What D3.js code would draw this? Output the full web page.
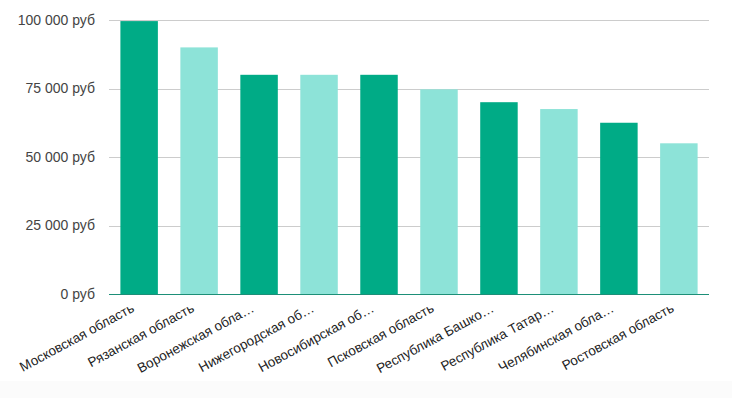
<!DOCTYPE html>
<html>
<head>
<meta charset="utf-8">
<script src="https://cdn.jsdelivr.net/npm/d3@7"></script>
<style>
  html, body { margin: 0; padding: 0; background: #ffffff; }
  svg { display: block; font-family: "Liberation Sans", Arial, sans-serif; }
</style>
</head>
<body>
<script>
const regions = [
  "Московская область",
  "Рязанская область",
  "Воронежская обла…",
  "Нижегородская об…",
  "Новосибирская об…",
  "Псковская область",
  "Республика Башко…",
  "Республика Татар…",
  "Челябинская обла…",
  "Ростовская область"
];
const salaries = [99600, 90000, 80000, 80000, 80000, 74700, 70000, 67500, 62500, 55000];
const yTicks = [0, 25000, 50000, 75000, 100000];
const barColors = ["#00ab86", "#8de3d8"];

const width = 732, height = 398;
const margin = { top: 20, right: 23, bottom: 104, left: 109 };

const svg = d3.select("body").append("svg")
  .attr("width", width)
  .attr("height", height);

// faint strip along the bottom edge
svg.append("rect")
  .attr("x", 0)
  .attr("y", 381)
  .attr("width", width)
  .attr("height", height - 381)
  .attr("fill", "#fbfbfb");

const x = d3.scaleBand()
  .domain(regions)
  .range([margin.left, width - margin.right])
  .paddingInner(0.375)
  .paddingOuter(0.19);

const y = d3.scaleLinear()
  .domain([0, 100000])
  .range([height - margin.bottom, margin.top]);

const fmt = v => d3.format(",")(v).replace(/,/g, " ") + " руб";

// grid
svg.append("g")
  .selectAll("line")
  .data(yTicks.filter(d => d > 0))
  .join("line")
  .attr("x1", margin.left)
  .attr("x2", width - margin.right)
  .attr("y1", d => Math.round(y(d)) + 0.5)
  .attr("y2", d => Math.round(y(d)) + 0.5)
  .attr("stroke", "#cccccc")
  .attr("stroke-width", 1);

// y labels
const yAxis = svg.append("g")
  .attr("transform", `translate(${margin.left - 14},0)`)
  .call(d3.axisLeft(y).tickValues(yTicks).tickSize(0).tickPadding(0).tickFormat(fmt));
yAxis.select(".domain").remove();
yAxis.selectAll("text")
  .attr("fill", "#444444")
  .style("font-size", "14px")
  .style("font-family", "\"Liberation Sans\", Arial, sans-serif");

// bars
svg.append("g")
  .selectAll("rect")
  .data(salaries)
  .join("rect")
  .attr("x", (d, i) => x(regions[i]))
  .attr("y", d => y(d))
  .attr("width", x.bandwidth())
  .attr("height", d => y(0) - y(d))
  .attr("fill", (d, i) => barColors[i % 2]);

// baseline
svg.append("line")
  .attr("x1", margin.left)
  .attr("x2", width - margin.right)
  .attr("y1", y(0) + 0.5)
  .attr("y2", y(0) + 0.5)
  .attr("stroke", "#1d8f78")
  .attr("stroke-width", 1);

// x labels
const xAxis = svg.append("g")
  .attr("transform", `translate(0,${y(0)})`)
  .call(d3.axisBottom(x).tickSize(0).tickPadding(0));
xAxis.select(".domain").remove();
xAxis.selectAll("text")
  .attr("fill", "#222222")
  .attr("text-anchor", "end")
  .attr("dy", null)
  .attr("y", 0)
  .attr("transform", "translate(-4,17) rotate(-28.5)")
  .style("font-size", "13.5px")
  .style("font-family", "\"Liberation Sans\", Arial, sans-serif");
</script>
</body>
</html>
